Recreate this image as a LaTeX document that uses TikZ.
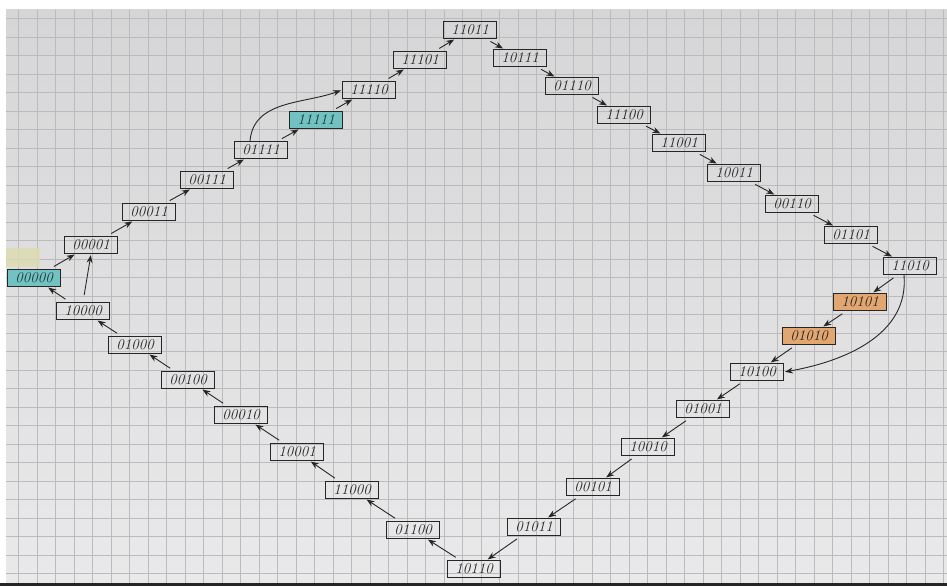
\documentclass[tikz,border=0pt]{standalone}
\usepackage{fontspec}
\usepackage{tikz}
\usetikzlibrary{
  arrows.meta,
  calc,
  positioning
}
\definecolor{paper}{HTML}{E9E9E9}
\definecolor{paperdark}{HTML}{D6D6D6}
\definecolor{gridcol}{HTML}{BDB9C2}
\definecolor{ink}{HTML}{262626}
\definecolor{cyanmark}{HTML}{72C2C2}
\definecolor{orangemark}{HTML}{E2A670}
\definecolor{yellowmark}{HTML}{DCDCB0}

\begin{document}
\begin{tikzpicture}[x=1pt,y=1pt,
  state/.style={draw=ink, line width=1pt, minimum width=53pt, minimum height=17pt,
    inner sep=0pt, text=ink, font=\fontsize{15}{15}\selectfont\itshape},
  cyanstate/.style={state, fill=cyanmark, text=ink!80!teal},
  orangestate/.style={state, fill=orangemark},
  arr/.style={draw=ink, line width=0.9pt, -{Stealth[length=8pt,width=6pt]},
    shorten <=5pt, shorten >=1pt}
]
  \useasboundingbox (0,0) rectangle (947,-586);
  \fill[white] (0,0) rectangle (947,-586);
  \shade[top color=paperdark, bottom color=paper] (6,-10) rectangle (947,-583);
  \draw[gridcol, line width=0.5pt] (6,-10) grid[step=18.5pt] (947,-583);
  \fill[ink] (0,-583) rectangle (947,-586);
  \fill[yellowmark, opacity=0.8] (6,-248) rectangle (40,-267);

  \node[cyanstate] (s00000) at (34,-278) {00000};
  \node[state] (s00001) at (91,-245) {00001};
  \node[state] (s00011) at (149,-212) {00011};
  \node[state] (s00111) at (207,-180) {00111};
  \node[state] (s01111) at (261,-150) {01111};
  \node[cyanstate] (s11111) at (316,-120) {11111};
  \node[state] (s11110) at (369,-90) {11110};
  \node[state] (s11101) at (420,-60) {11101};
  \node[state] (s11011) at (470,-30) {11011};
  \node[state] (s10111) at (520,-58) {10111};
  \node[state] (s01110) at (572,-86) {01110};
  \node[state] (s11100) at (624,-115) {11100};
  \node[state] (s11001) at (679,-143) {11001};
  \node[state] (s10011) at (734,-173) {10011};
  \node[state] (s00110) at (792,-204) {00110};
  \node[state] (s01101) at (851,-235) {01101};
  \node[state] (s11010) at (910,-266) {11010};
  \node[orangestate] (s10101) at (860,-302) {10101};
  \node[orangestate] (s01010) at (809,-336) {01010};
  \node[state] (s10100) at (757,-372) {10100};
  \node[state] (s01001) at (703,-409) {01001};
  \node[state] (s10010) at (648,-447) {10010};
  \node[state] (s00101) at (593,-487) {00101};
  \node[state] (s01011) at (534,-527) {01011};
  \node[state] (s10110) at (474,-569) {10110};
  \node[state] (s01100) at (413,-530) {01100};
  \node[state] (s11000) at (352,-490) {11000};
  \node[state] (s10001) at (297,-452) {10001};
  \node[state] (s00010) at (241,-415) {00010};
  \node[state] (s00100) at (188,-380) {00100};
  \node[state] (s01000) at (135,-345) {01000};
  \node[state] (s10000) at (83,-311) {10000};

  % up the left side
  \draw[arr] (s00000) -- (s00001);
  \draw[arr] (s00001) -- (s00011);
  \draw[arr] (s00011) -- (s00111);
  \draw[arr] (s00111) -- (s01111);
  \draw[arr] (s01111) -- (s11111);
  \draw[arr] (s11111) -- (s11110);
  \draw[arr] (s11110) -- (s11101);
  \draw[arr] (s11101) -- (s11011);
  % down the right side
  \draw[arr] (s11011) -- (s10111);
  \draw[arr] (s10111) -- (s01110);
  \draw[arr] (s01110) -- (s11100);
  \draw[arr] (s11100) -- (s11001);
  \draw[arr] (s11001) -- (s10011);
  \draw[arr] (s10011) -- (s00110);
  \draw[arr] (s00110) -- (s01101);
  \draw[arr] (s01101) -- (s11010);
  \draw[arr] (s11010) -- (s10101);
  \draw[arr] (s10101) -- (s01010);
  \draw[arr] (s01010) -- (s10100);
  \draw[arr] (s10100) -- (s01001);
  \draw[arr] (s01001) -- (s10010);
  \draw[arr] (s10010) -- (s00101);
  \draw[arr] (s00101) -- (s01011);
  \draw[arr] (s01011) -- (s10110);
  % back up to the start
  \draw[arr] (s10110) -- (s01100);
  \draw[arr] (s01100) -- (s11000);
  \draw[arr] (s11000) -- (s10001);
  \draw[arr] (s10001) -- (s00010);
  \draw[arr] (s00010) -- (s00100);
  \draw[arr] (s00100) -- (s01000);
  \draw[arr] (s01000) -- (s10000);
  \draw[arr] (s10000) -- (s00000);
  \draw[arr, shorten <=7pt] (s10000.north) -- (s00001.south);
  % shortcuts
  \draw[arr, shorten <=0pt] ([xshift=-11pt]s01111.north) to[out=85, in=200] (s11110.west);
  \draw[arr, shorten <=0pt] ([xshift=-6pt]s11010.south) to[out=-85, in=10] (s10100.east);
\end{tikzpicture}
\end{document}
